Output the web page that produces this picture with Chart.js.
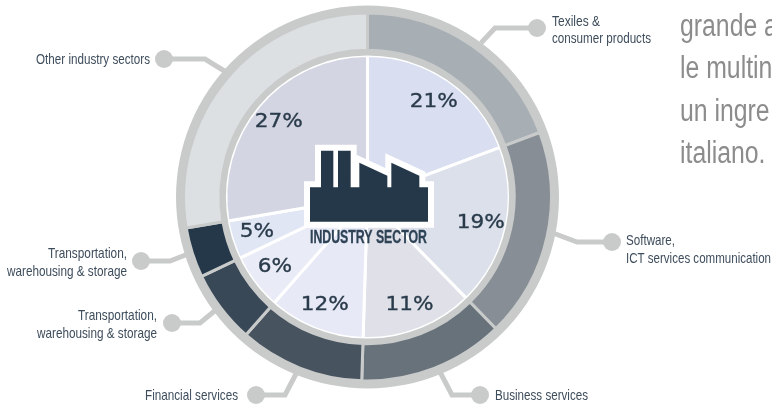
<!DOCTYPE html>
<html><head><meta charset="utf-8">
<style>html,body{margin:0;padding:0;background:#fff}canvas{display:block}</style>
<script src="https://cdn.jsdelivr.net/npm/chart.js@4"></script></head>
<body><canvas id="c" width="772" height="404"></canvas>
<script>
const sectors = ["Texiles & consumer products","Software, ICT services communication","Business services","Financial services","Transportation, warehousing & storage","Transportation, warehousing & storage","Other industry sectors"];
const percentLabels = ["21%","19%","11%","12%","6%","5%","27%"];
const arcShares = [19.3,18.4,12.8,11.0,6.4,4.4,27.7];
const ringColors = ["#a7aeb4","#878e96","#67727b","#47535e","#394856","#25384a","#dde0e3"];
const pieColors = ["#d9dff1","#dbe0ea","#dfe0e8","#e7e9f6","#e9ebf6","#e0e6f4","#d3d5e2"];
const bandColor = "#c9cbcb";
const sideText = ["grande a","le multin","un ingre","italiano."];
const labelFont = '"Liberation Sans",sans-serif';
const textColor = "#3e4d5c", darkColor = "#25384a";

const callouts = [
 {lines:["Texiles &","consumer products"],x:552,ys:[26,43],w:[48,99],align:"left",path:[[481,43],[495,28],[537,28]]},
 {lines:["Software,","ICT services communication"],x:626,ys:[245,263],w:[49,145],align:"left",path:[[553,233],[577,242],[612,242]]},
 {lines:["Business services"],x:495,ys:[400],w:[93],align:"left",path:[[440,372],[452,395],[480,395]]},
 {lines:["Financial services"],x:238,ys:[400],w:[93],align:"right",path:[[297,372],[285,395],[256,395]]},
 {lines:["Transportation,","warehousing & storage"],x:157,ys:[320,338],w:[79,120],align:"right",path:[[217,309],[200,323],[172,323]]},
 {lines:["Transportation,","warehousing & storage"],x:127,ys:[258,276],w:[79,120],align:"right",path:[[188,254],[170,261],[141,261]]},
 {lines:["Other industry sectors"],x:150,ys:[64],w:[114],align:"right",path:[[226,72],[205,59],[164,59]]}
];
const factory = [[60,172],[93,172],[93,62],[130,62],[130,172],[144,172],[144,62],[182,62],[182,172],[208,172],[208,98],[292,137],[292,172],[304,172],[304,98],[388,137],[388,172],[414,172],[414,275],[60,275]];

const overlay = {
 id:"overlay",
 beforeDatasetsDraw(chart){
  const g = chart.ctx;
  g.save();
  g.strokeStyle = bandColor; g.fillStyle = bandColor; g.lineWidth = 5; g.lineJoin = "miter";
  callouts.forEach(c=>{
    g.beginPath();
    c.path.forEach((p,i)=> i? g.lineTo(p[0],p[1]) : g.moveTo(p[0],p[1]));
    g.stroke();
    const e = c.path[c.path.length-1];
    g.beginPath(); g.arc(e[0],e[1],9,0,Math.PI*2); g.fill();
  });
  g.restore();
 },
 afterDatasetsDraw(chart){
  const g = chart.ctx;
  const arcs = chart.getDatasetMeta(3).data;
  g.save();
  g.fillStyle = "#2a3b4b"; g.strokeStyle = "#2a3b4b"; g.lineWidth = 0.35;
  g.textAlign = "center"; g.textBaseline = "middle";
  g.font = '20px "DejaVu Sans",sans-serif';
  arcs.forEach((a,i)=>{
    const p = a.getProps(["x","y","startAngle","endAngle","outerRadius"]);
    const m = (p.startAngle+p.endAngle)/2, r = p.outerRadius*0.82;
    const x = p.x+Math.cos(m)*r, y = p.y+Math.sin(m)*r;
    g.save(); g.translate(x,y); g.scale(1.08,1);
    g.fillText(percentLabels[i],0,0);
    g.strokeText(percentLabels[i],0,0);
    g.restore();
  });
  g.beginPath();
  factory.forEach((p,i)=>{const x=290+p[0]/3,y=130+p[1]/3; i? g.lineTo(x,y):g.moveTo(x,y);});
  g.closePath();
  g.strokeStyle="#fff"; g.lineWidth=12; g.lineJoin="miter"; g.miterLimit=4; g.stroke();
  g.fillStyle=darkColor; g.fill();
  g.textAlign="left"; g.textBaseline="alphabetic";
  g.fillStyle="#2f4356"; g.strokeStyle="#2f4356"; g.lineWidth=0.3; g.font='bold 18px '+labelFont;
  g.fillText("INDUSTRY SECTOR",310,243,117);
  g.strokeText("INDUSTRY SECTOR",310,243,117);
  g.fillStyle=textColor; g.font='14.5px '+labelFont;
  callouts.forEach(c=>{
    g.textAlign=c.align;
    c.lines.forEach((t,i)=>g.fillText(t,c.x,c.ys[i],c.w[i]));
  });
  g.textAlign="left"; g.fillStyle="#8c8c8c"; g.font='31px '+labelFont;
  sideText.forEach((t,i)=>{
    g.save(); g.translate(680,36+i*42.4); g.scale(0.8,1);
    g.fillText(t,0,0);
    g.restore();
  });
  g.restore();
 }
};

new Chart(document.getElementById("c"),{
 type:"doughnut",
 data:{labels:sectors,datasets:[
  {data:[1],backgroundColor:[bandColor],borderWidth:0,weight:7.5},
  {data:arcShares,backgroundColor:ringColors,borderColor:bandColor,borderWidth:3,weight:37},
  {data:[1],backgroundColor:[bandColor],borderWidth:0,weight:5},
  {data:arcShares,backgroundColor:pieColors,borderColor:"#ffffff",borderWidth:3,weight:140.5}
 ]},
 options:{
  responsive:false,animation:false,cutout:0,
  layout:{padding:{top:5.5,bottom:15.5,left:0,right:37}},
  plugins:{legend:{display:false},tooltip:{enabled:false},title:{display:false}}
 },
 plugins:[overlay]
});
</script></body></html>
